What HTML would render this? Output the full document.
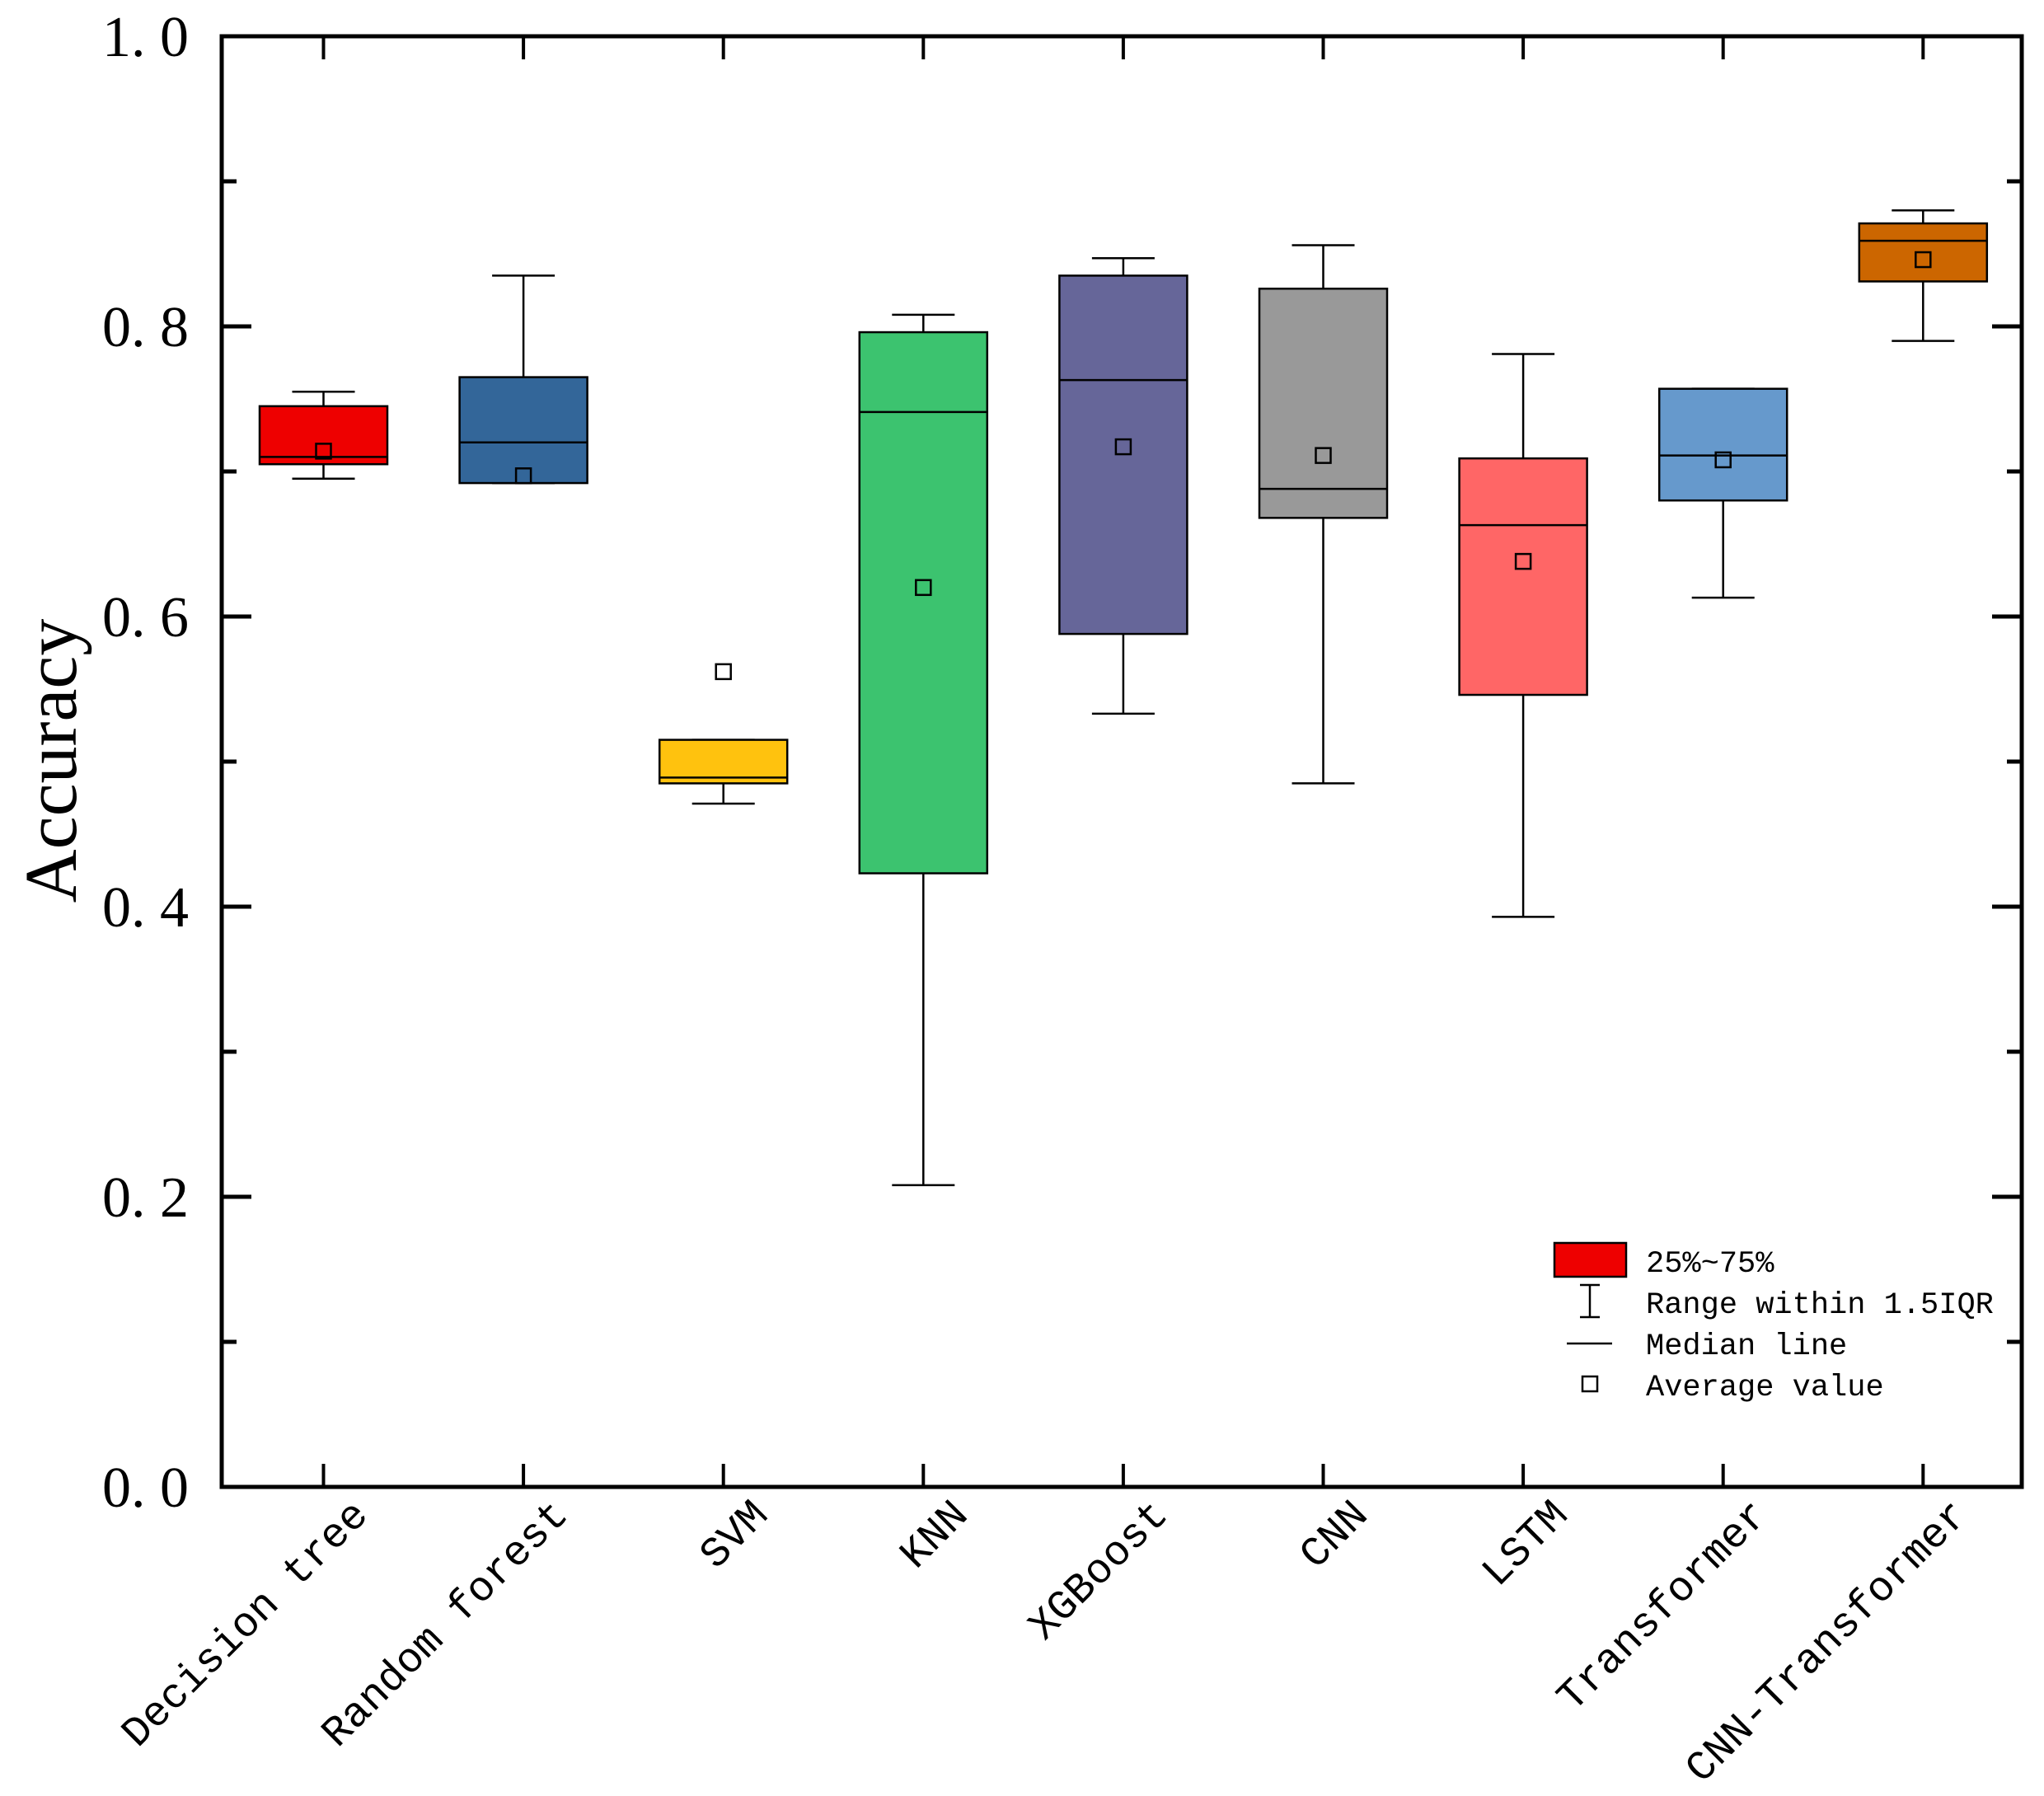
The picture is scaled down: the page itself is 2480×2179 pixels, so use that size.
<!DOCTYPE html>
<html><head><meta charset="utf-8"><style>
html,body{margin:0;padding:0;background:#fff;}
svg{display:block;}
</style></head><body>
<svg id="chart" width="2480" height="2179" viewBox="0 0 2480 2179" xmlns="http://www.w3.org/2000/svg">
<rect x="0" y="0" width="2480" height="2179" fill="#fff"/>
<g id="marks"></g>
<g id="axes"></g>
<text x="0" y="0" transform="translate(92,923) rotate(-90)" text-anchor="middle" font-family="'Liberation Serif', serif" font-size="90">Accuracy</text>
<g>
  <rect x="1886" y="1508" width="87" height="41" fill="#ee0000" stroke="#000" stroke-width="2.5"/>
  <text x="1997" y="1543" font-family="'Liberation Mono', monospace" font-size="37">25%~75%</text>
  <line x1="1929" y1="1559" x2="1929" y2="1598" stroke="#000" stroke-width="2.5"/>
  <line x1="1917" y1="1559" x2="1941" y2="1559" stroke="#000" stroke-width="2.5"/>
  <line x1="1917" y1="1598" x2="1941" y2="1598" stroke="#000" stroke-width="2.5"/>
  <text x="1997" y="1593" font-family="'Liberation Mono', monospace" font-size="37">Range within 1.5IQR</text>
  <line x1="1901" y1="1630" x2="1956" y2="1630" stroke="#000" stroke-width="2.5"/>
  <text x="1997" y="1643" font-family="'Liberation Mono', monospace" font-size="37">Median line</text>
  <rect x="1920" y="1670" width="18" height="18" fill="none" stroke="#000" stroke-width="2.5"/>
  <text x="1997" y="1693" font-family="'Liberation Mono', monospace" font-size="37">Average value</text>
</g>
</svg>
<script>
const categories = ["Decision tree","Random forest","SVM","KNN","XGBoost","CNN","LSTM","Transformer","CNN-Transformer"];
const whiskerLow = [0.695,0.692,0.471,0.208,0.533,0.485,0.393,0.613,0.790];
const q1 =         [0.705,0.692,0.485,0.423,0.588,0.668,0.546,0.680,0.831];
const median =     [0.710,0.720,0.489,0.741,0.763,0.688,0.663,0.711,0.859];
const q3 =         [0.745,0.765,0.515,0.796,0.835,0.826,0.709,0.757,0.871];
const whiskerHigh =[0.755,0.835,0.515,0.808,0.847,0.856,0.781,0.757,0.880];
const means =      [0.714,0.697,0.562,0.620,0.717,0.711,0.638,0.708,0.846];
const colors = ["#ee0000","#336699","#ffc20e","#3cc36f","#666699","#999999","#ff6666","#6699cc","#cc6600"];
const yTicks = [0,0.2,0.4,0.6,0.8,1.0];
const yTickLabels = ["0. 0","0. 2","0. 4","0. 6","0. 8","1. 0"];

const L=269,R=2453,T=44,B=1804;
const y = v => B - v*(B-T);
const x = i => 392.5 + i*242.6;
const NS="http://www.w3.org/2000/svg";
const marks=document.getElementById('marks'), axes=document.getElementById('axes');
function mk(tag, attrs, parent){const e=document.createElementNS(NS,tag);for(const k in attrs)e.setAttribute(k,attrs[k]);parent.appendChild(e);return e;}
const BW=155, CW=76, SW=2.5;
categories.forEach((c,i)=>{
  const g=mk('g',{},marks);
  
  
  const cx=x(i);
  mk('line',{x1:cx,y1:y(whiskerHigh[i]),x2:cx,y2:y(q3[i]),stroke:'#000','stroke-width':SW},g);
  mk('line',{x1:cx,y1:y(q1[i]),x2:cx,y2:y(whiskerLow[i]),stroke:'#000','stroke-width':SW},g);
  mk('line',{x1:cx-CW/2,y1:y(whiskerHigh[i]),x2:cx+CW/2,y2:y(whiskerHigh[i]),stroke:'#000','stroke-width':SW},g);
  mk('line',{x1:cx-CW/2,y1:y(whiskerLow[i]),x2:cx+CW/2,y2:y(whiskerLow[i]),stroke:'#000','stroke-width':SW},g);
  mk('rect',{x:cx-BW/2,y:y(q3[i]),width:BW,height:y(q1[i])-y(q3[i]),fill:colors[i],stroke:'#000','stroke-width':SW},g);
  mk('line',{x1:cx-BW/2,y1:y(median[i]),x2:cx+BW/2,y2:y(median[i]),stroke:'#000','stroke-width':SW},g);
  mk('rect',{x:cx-9,y:y(means[i])-9,width:18,height:18,fill:'none',stroke:'#000','stroke-width':SW},g);
  const t=mk('text',{transform:`translate(${cx+56},${1840}) rotate(-45)`,'text-anchor':'end','font-family':"'Liberation Mono', monospace",'font-size':51},axes);
  t.textContent=c;
  
  
  mk('line',{x1:cx,y1:B,x2:cx,y2:B-28,stroke:'#000','stroke-width':4},axes);
  mk('line',{x1:cx,y1:T,x2:cx,y2:T+28,stroke:'#000','stroke-width':4},axes);
});
for(let k=0;k<=10;k++){
  const v=k/10, len=(k%2===0)?36:18, yy=y(v);
  mk('line',{x1:L,y1:yy,x2:L+len,y2:yy,stroke:'#000','stroke-width':5},axes);
  mk('line',{x1:R,y1:yy,x2:R-len,y2:yy,stroke:'#000','stroke-width':5},axes);
}
yTicks.forEach((v,i)=>{
  const t=mk('text',{x:229,y:y(v)+24,'text-anchor':'end','font-family':"'Liberation Serif', serif",'font-size':70},axes);
  t.textContent=yTickLabels[i];
  
  
});
const frame=mk('rect',{x:L,y:T,width:R-L,height:B-T,fill:'none',stroke:'#000','stroke-width':5},axes);


</script>
</body></html>
